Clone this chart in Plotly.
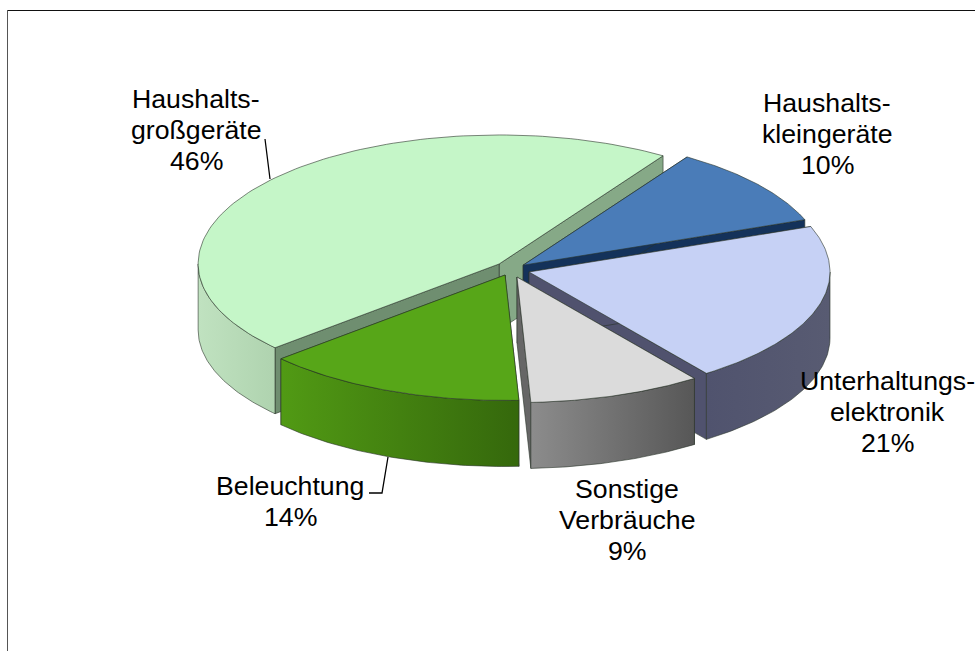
import math
import plotly.graph_objects as go

# ---- data ----
categories = ["Haushaltsgroßgeräte", "Haushaltskleingeräte", "Unterhaltungselektronik",
              "Sonstige Verbräuche", "Beleuchtung"]
shares = [45.8, 10.1, 20.7, 9.3, 14.1]
label_lines = [["Haushalts-", "großgeräte", "46%"],
               ["Haushalts-", "kleingeräte", "10%"],
               ["Unterhaltungs-", "elektronik", "21%"],
               ["Sonstige", "Verbräuche", "9%"],
               ["Beleuchtung", "14%"]]

# ---- layout / style ----
W, H = 975, 651
CX, CY, RX, RY_BACK, RY_FRONT, DEPTH = 514, 270, 301, 129, 125.5, 66
FIRST_END_ANGLE = 33.0
explode = [(0.065, 0.072), (0.039, 0.06), (0.052, 0.054), (0.03, 0.058), (0.077, 0.042)]
top_col = ["#C5F6C8", "#4A7CB8", "#C6D1F5", "#DBDBDB", "#57A618"]
wall_col = [("#C0E2C0", "#AFD3AF"), None, ("#50536E", "#585B72"),
            ("#8C8C8C", "#575757"), ("#519A14", "#35680C")]
face_col = [("#6F8E70", "#86A987"), ("#14325A", "#14325A"), ("#50526E", "#50526E"),
            ("#666666", "#666666"), ("#35680C", "#35680C")]
EDGE = "rgba(40,50,40,0.85)"
FONT = "Liberation Sans"
FS = 26.7
label_pos = [(196, 99), (827, 103), (887, 381), (627, 489), (290, 486)]
LH = 31
leaders = [[(265, 139), (270, 179)], [(369, 493), (382, 493), (388, 457)]]

# ---- geometry derived from the shares ----
fig = go.Figure()
total = sum(shares)
spans = [s / total * 360 for s in shares]
angles = [(FIRST_END_ANGLE - spans[0], FIRST_END_ANGLE)]
a = FIRST_END_ANGLE
for sp in spans[1:]:
    angles.append((a, a + sp))
    a += sp


def arc(tip, a0, a1, n=60):
    pts = []
    for i in range(n + 1):
        t = math.radians(a0 + (a1 - a0) * i / n)
        c = math.cos(t)
        pts.append((tip[0] + RX * math.sin(t), tip[1] - (RY_BACK if c > 0 else RY_FRONT) * c))
    return pts


def poly(pts, color=None, grad=None, edge=EDGE, width=0.7):
    xs = [p[0] for p in pts] + [pts[0][0]]
    ys = [p[1] for p in pts] + [pts[0][1]]
    kw = {}
    if grad:
        kw["fillgradient"] = dict(type="horizontal", colorscale=[[0, grad[0]], [1, grad[1]]])
    else:
        kw["fillcolor"] = color
    fig.add_trace(go.Scatter(x=xs, y=ys, mode="lines", fill="toself",
                             line=dict(color=edge, width=width), hoverinfo="skip",
                             showlegend=False, **kw))


def draw_slice(i):
    a0, a1 = angles[i]
    mid = math.radians((a0 + a1) / 2)
    tip = (CX + math.sin(mid) * RX * explode[i][0], CY - math.cos(mid) * RY_BACK * explode[i][1])
    rim0 = arc(tip, a0, a0, 1)[0]
    rim1 = arc(tip, a1, a1, 1)[0]
    down = lambda p: (p[0], p[1] + DEPTH)
    if i == 3:
        poly([tip, rim0, down(rim0), down(tip)], face_col[i][0])
        poly([tip, rim1, down(rim1), down(tip)], face_col[i][1])
    else:
        poly([tip, rim1, down(rim1), down(tip)], face_col[i][1])
        poly([tip, rim0, down(rim0), down(tip)], face_col[i][0])
    if i == 0:
        w0, w1 = a0, -90
    else:
        w0, w1 = max(a0, 90), min(a1, 270)
    if wall_col[i] and (i == 0 or w1 > w0):
        upper = arc(tip, w0, w1)
        lower = [down(p) for p in reversed(upper)]
        poly(upper + lower, grad=wall_col[i])
    poly([tip] + arc(tip, a0, a1, 120), top_col[i])


for i in [0, 1, 2, 4, 3]:
    draw_slice(i)

# chart frame and leader lines
fig.add_shape(type="line", x0=7.5, y0=10.5, x1=975, y1=10.5, line=dict(color="#111111", width=1))
fig.add_shape(type="line", x0=7.5, y0=10, x1=7.5, y1=651, line=dict(color="#555555", width=1))
for ld in leaders:
    fig.add_trace(go.Scatter(x=[p[0] for p in ld], y=[p[1] for p in ld], mode="lines",
                             line=dict(color="black", width=1.3), hoverinfo="skip",
                             showlegend=False))

# labels
for lines, (lx, ly) in zip(label_lines, label_pos):
    for j, txt in enumerate(lines):
        fig.add_annotation(x=lx, y=ly + j * LH, text=txt, showarrow=False, xanchor="center",
                           yanchor="middle", font=dict(family=FONT, size=FS, color="black"))

fig.update_xaxes(range=[0, W], visible=False, fixedrange=True)
fig.update_yaxes(range=[H, 0], visible=False, fixedrange=True)
fig.update_layout(width=W, height=H, margin=dict(l=0, r=0, t=0, b=0),
                  paper_bgcolor="white", plot_bgcolor="white", showlegend=False)
fig.write_html("out.html", config={"displayModeBar": False},
               post_script="document.body.style.margin='0';document.documentElement.style.overflow='hidden';")
